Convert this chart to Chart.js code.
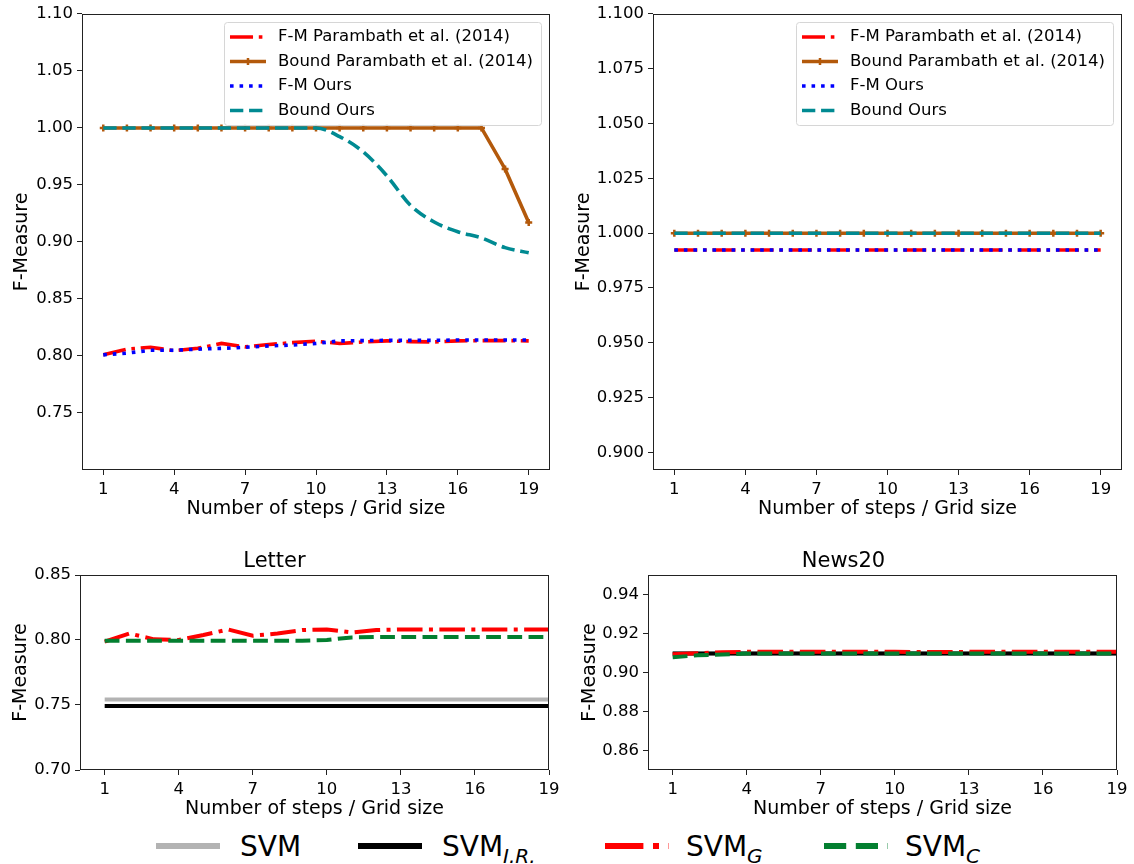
<!DOCTYPE html>
<html>
<head>
<meta charset="utf-8">
<script src="https://cdn.jsdelivr.net/npm/chart.js@4.4.0/dist/chart.umd.min.js"></script>
<style>
  body { margin: 0; background: #fff; }
  #page { position: relative; width: 1134px; height: 864px; font-family: 'DejaVu Sans', sans-serif; }
  canvas { position: absolute; }
  .leg { position: absolute; top: 833px; font-size: 28px; line-height: 28px; color: #000; white-space: nowrap; }
  .leg i { font-size: 20px; position: relative; top: 7px; }
  .legline { position: absolute; top: 841px; }
</style>
</head>
<body>
<div id="page">
  <canvas id="tl" width="560" height="530" style="left:0;top:0"></canvas>
  <canvas id="tr" width="564" height="530" style="left:570px;top:0"></canvas>
  <canvas id="bl" width="565" height="290" style="left:0;top:540px"></canvas>
  <canvas id="br" width="564" height="290" style="left:570px;top:540px"></canvas>
  <div id="bottomLegend"></div>
</div>
<script>
// x values and tick labels
const steps = [1, 2, 3, 4, 5, 6, 7, 8, 9, 10, 11, 12, 13, 14, 15, 16, 17, 18, 19];
const xTickValues = [1, 4, 7, 10, 13, 16, 19];

// top left panel
const fmParambathA = [0.801, 0.806, 0.8076, 0.8047, 0.8067, 0.811, 0.808, 0.810, 0.8117, 0.8129, 0.811, 0.8123, 0.8132, 0.8126, 0.8123, 0.8132, 0.8135, 0.8135, 0.8132];
const boundParambathA = [1, 1, 1, 1, 1, 1, 1, 1, 1, 1, 1, 1, 1, 1, 1, 1, 1, 0.964, 0.917];
const fmOursA = [0.801, 0.8025, 0.805, 0.805, 0.806, 0.8067, 0.8076, 0.8088, 0.8096, 0.811, 0.8132, 0.8135, 0.8137, 0.8137, 0.8137, 0.814, 0.814, 0.814, 0.814];
const boundOursA = [1, 1, 1, 1, 1, 1, 1, 1, 1, 1, 0.9924, 0.979, 0.958, 0.932, 0.9175, 0.909, 0.9035, 0.895, 0.8905];
const yTicksA = [0.75, 0.80, 0.85, 0.90, 0.95, 1.00, 1.05, 1.10];

// top right panel
const fmParambathB = [0.9923, 0.9923, 0.9923, 0.9923, 0.9923, 0.9923, 0.9923, 0.9923, 0.9923, 0.9923, 0.9923, 0.9923, 0.9923, 0.9923, 0.9923, 0.9923, 0.9923, 0.9923, 0.9923];
const boundParambathB = [1, 1, 1, 1, 1, 1, 1, 1, 1, 1, 1, 1, 1, 1, 1, 1, 1, 1, 1];
const fmOursB = [0.9923, 0.9923, 0.9923, 0.9923, 0.9923, 0.9923, 0.9923, 0.9923, 0.9923, 0.9923, 0.9923, 0.9923, 0.9923, 0.9923, 0.9923, 0.9923, 0.9923, 0.9923, 0.9923];
const boundOursB = [1, 1, 1, 1, 1, 1, 1, 1, 1, 1, 1, 1, 1, 1, 1, 1, 1, 1, 1];
const yTicksB = [0.900, 0.925, 0.950, 0.975, 1.000, 1.025, 1.050, 1.075, 1.100];

// Letter
const svmLetter = [0.7543, 0.7543, 0.7543, 0.7543, 0.7543, 0.7543, 0.7543, 0.7543, 0.7543, 0.7543, 0.7543, 0.7543, 0.7543, 0.7543, 0.7543, 0.7543, 0.7543, 0.7543, 0.7543];
const svmIrLetter = [0.7493, 0.7493, 0.7493, 0.7493, 0.7493, 0.7493, 0.7493, 0.7493, 0.7493, 0.7493, 0.7493, 0.7493, 0.7493, 0.7493, 0.7493, 0.7493, 0.7493, 0.7493, 0.7493];
const svmGLetter = [0.7987, 0.805, 0.8005, 0.800, 0.8038, 0.8081, 0.8033, 0.805, 0.8076, 0.8081, 0.8058, 0.8076, 0.8081, 0.8081, 0.8081, 0.8081, 0.8081, 0.8081, 0.8081];
const svmCLetter = [0.7995, 0.7995, 0.7995, 0.7995, 0.7995, 0.7995, 0.7995, 0.7995, 0.7995, 0.800, 0.802, 0.8023, 0.8023, 0.8023, 0.8023, 0.8023, 0.8023, 0.8023, 0.8023];
const yTicksLetter = [0.70, 0.75, 0.80, 0.85];

// News20
const svmNews = [0.9097, 0.9097, 0.9097, 0.9097, 0.9097, 0.9097, 0.9097, 0.9097, 0.9097, 0.9097, 0.9097, 0.9097, 0.9097, 0.9097, 0.9097, 0.9097, 0.9097, 0.9097, 0.9097];
const svmIrNews = [0.9097, 0.9097, 0.9097, 0.9097, 0.9097, 0.9097, 0.9097, 0.9097, 0.9097, 0.9097, 0.9097, 0.9097, 0.9097, 0.9097, 0.9097, 0.9097, 0.9097, 0.9097, 0.9097];
const svmGNews = [0.9094, 0.9099, 0.9104, 0.9106, 0.9106, 0.9106, 0.9106, 0.9106, 0.9106, 0.9106, 0.9105, 0.9105, 0.9106, 0.9106, 0.9106, 0.9106, 0.9106, 0.9106, 0.9106];
const svmCNews = [0.9078, 0.9088, 0.9092, 0.9097, 0.9097, 0.9097, 0.9097, 0.9097, 0.9097, 0.9097, 0.9097, 0.9097, 0.9097, 0.9097, 0.9097, 0.9097, 0.9097, 0.9097, 0.9097];
const yTicksNews = [0.86, 0.88, 0.90, 0.92, 0.94];

const RED = '#ff0000', BROWN = '#b3590b', BLUE = '#0000ff', TEAL = '#008a92';
const GRAY = '#b3b3b3', BLACK = '#000000', GREEN = '#037f30';

Chart.defaults.font.family = "'DejaVu Sans', sans-serif";
Chart.defaults.color = '#000';
Chart.defaults.animation = false;

// dash patterns scale with line width like matplotlib
const dashdot = w => [6.4 * w, 1.6 * w, 1 * w, 1.6 * w];
const dashed = w => [3.7 * w, 1.6 * w];
const dotted = w => [1 * w, 1.65 * w];

// axes box on all four sides
const framePlugin = {
  id: 'frame',
  afterDatasetsDraw(chart) {
    const a = chart.chartArea, ctx = chart.ctx;
    ctx.save();
    ctx.strokeStyle = '#222';
    ctx.lineWidth = 1;
    ctx.strokeRect(Math.round(a.left) + 0.5, Math.round(a.top) + 0.5, Math.round(a.right - a.left) - 1, Math.round(a.bottom - a.top) - 1);
    ctx.restore();
  }
};

// matplotlib style legend in the upper right of the axes
const boxLegend = {
  id: 'boxLegend',
  afterDraw(chart, args, o) {
    if (!o.show) return;
    const ctx = chart.ctx, a = chart.chartArea;
    const dsList = chart.data.datasets;
    ctx.save();
    ctx.font = "16.5px 'DejaVu Sans'";
    const tw = Math.max(...o.order.map(i => ctx.measureText(dsList[i].label).width));
    const w = 54 + tw + 8;
    const h = 103;
    const x0 = a.right - 9 - w, y0 = 22;
    ctx.beginPath();
    ctx.roundRect(x0 + 0.5, y0 + 0.5, w, h, 3);
    ctx.fillStyle = 'rgba(255,255,255,0.85)';
    ctx.fill();
    ctx.strokeStyle = '#d6d6d6';
    ctx.lineWidth = 1;
    ctx.stroke();
    o.order.forEach((i, k) => {
      const ds = dsList[i];
      const y = y0 + 15 + k * 24.5;
      ctx.beginPath();
      ctx.setLineDash(ds.borderDash || []);
      ctx.lineCap = 'butt';
      ctx.lineWidth = ds.borderWidth;
      ctx.strokeStyle = ds.borderColor;
      ctx.moveTo(x0 + 6, y);
      ctx.lineTo(x0 + 42, y);
      ctx.stroke();
      ctx.setLineDash([]);
      if (ds.pointRadius > 0) {
        ctx.lineWidth = 2.5;
        ctx.beginPath();
        ctx.moveTo(x0 + 24, y - 3.5); ctx.lineTo(x0 + 24, y + 3.5);
        ctx.moveTo(x0 + 20.5, y); ctx.lineTo(x0 + 27.5, y);
        ctx.stroke();
      }
      ctx.fillStyle = '#000';
      ctx.textBaseline = 'middle';
      ctx.fillText(ds.label, x0 + 54, y);
    });
    ctx.restore();
  }
};

function line(label, data, color, width, dash, order, extra) {
  return Object.assign({
    label: label,
    data: data,
    borderColor: color,
    backgroundColor: color,
    borderWidth: width,
    borderDash: dash,
    pointRadius: 0,
    fill: false,
    tension: 0,
    order: order
  }, extra || {});
}

function makePanel(id, p) {
  new Chart(document.getElementById(id), {
    type: 'line',
    data: { labels: steps, datasets: p.datasets },
    options: {
      responsive: false,
      layout: { padding: p.padding },
      plugins: {
        legend: { display: false },
        tooltip: { enabled: false },
        title: p.title ? {
          display: true, text: p.title, color: '#000',
          font: { size: 21, weight: 'normal' },
          padding: { top: 9, bottom: 0.8 }
        } : { display: false },
        boxLegend: { show: !!p.legendOrder, order: p.legendOrder || [] }
      },
      scales: {
        x: {
          type: 'linear',
          min: p.xMin, max: p.xMax,
          afterBuildTicks: s => { s.ticks = xTickValues.map(v => ({ value: v })); },
          afterFit: s => { s.height = 60; },
          grid: { drawOnChartArea: false, drawTicks: true, tickLength: 5, color: '#222' },
          border: { display: false },
          ticks: { autoSkip: false, maxRotation: 0, padding: 5, font: { size: 16.5 }, color: '#000',
                   callback: v => String(v) },
          title: { display: true, text: 'Number of steps / Grid size', font: { size: 19 }, color: '#000',
                   padding: { top: 0, bottom: 9.8 } }
        },
        y: {
          min: p.yMin, max: p.yMax,
          afterBuildTicks: s => { s.ticks = p.yTicks.map(v => ({ value: v })); },
          afterFit: s => { s.width = p.yWidth; },
          grid: { drawOnChartArea: false, drawTicks: true, tickLength: 5, color: '#222' },
          border: { display: false },
          ticks: { padding: 4, font: { size: 16.5 }, color: '#000',
                   callback: v => v.toFixed(p.decimals) },
          title: { display: true, text: 'F-Measure', font: { size: 19 }, color: '#000',
                   padding: { top: p.yTitlePad, bottom: 0 } }
        }
      }
    },
    plugins: [framePlugin, boxLegend]
  });
}

const LWT = 3.6;
const brownPts = { pointRadius: 3.5, pointStyle: 'cross', pointBorderWidth: 2.5, pointBorderColor: BROWN };

makePanel('tl', {
  padding: { left: 0, top: 13, right: 10, bottom: 0 },
  yWidth: 82, yTitlePad: 10.4, decimals: 2,
  xMin: 0.1, xMax: 19.9, yMin: 0.70, yMax: 1.10, yTicks: yTicksA,
  legendOrder: [0, 1, 2, 3],
  datasets: [
    line('F-M Parambath et al. (2014)', fmParambathA, RED, LWT, dashdot(LWT), 3),
    line('Bound Parambath et al. (2014)', boundParambathA, BROWN, LWT, [], 2, brownPts),
    line('F-M Ours', fmOursA, BLUE, LWT, dotted(LWT), 1),
    line('Bound Ours', boundOursA, TEAL, LWT, dashed(LWT), 0, { cubicInterpolationMode: 'monotone' })
  ]
});

makePanel('tr', {
  padding: { left: 0, top: 13, right: 12, bottom: 0 },
  yWidth: 83, yTitlePad: 2.6, decimals: 3,
  xMin: 0.1, xMax: 19.9, yMin: 0.892, yMax: 1.10, yTicks: yTicksB,
  legendOrder: [0, 1, 2, 3],
  datasets: [
    line('F-M Parambath et al. (2014)', fmParambathB, RED, LWT, dashdot(LWT), 3),
    line('Bound Parambath et al. (2014)', boundParambathB, BROWN, LWT, [], 2, brownPts),
    line('F-M Ours', fmOursB, BLUE, LWT, dotted(LWT), 1),
    line('Bound Ours', boundOursB, TEAL, LWT, dashed(LWT), 0)
  ]
});

const LWB = 4;
makePanel('bl', {
  title: 'Letter',
  padding: { left: 0, top: 0, right: 16, bottom: 0 },
  yWidth: 80, yTitlePad: 9.6, decimals: 2,
  xMin: 0, xMax: 19, yMin: 0.70, yMax: 0.85, yTicks: yTicksLetter,
  datasets: [
    line('SVM', svmLetter, GRAY, LWB, [], 3),
    line('SVM I.R.', svmIrLetter, BLACK, LWB, [], 2),
    line('SVM G', svmGLetter, RED, LWB, dashdot(LWB), 1),
    line('SVM C', svmCLetter, GREEN, LWB, dashed(LWB), 0)
  ]
});

makePanel('br', {
  title: 'News20',
  padding: { left: 0, top: 0, right: 17, bottom: 0 },
  yWidth: 78, yTitlePad: 8.6, decimals: 2,
  xMin: 0, xMax: 19, yMin: 0.85, yMax: 0.95, yTicks: yTicksNews,
  datasets: [
    line('SVM', svmNews, GRAY, LWB, [], 3),
    line('SVM I.R.', svmIrNews, BLACK, LWB, [], 2),
    line('SVM G', svmGNews, RED, LWB, dashdot(LWB), 1),
    line('SVM C', svmCNews, GREEN, LWB, dashed(LWB), 0)
  ]
});

// shared legend under the panels
const legendNames = ['SVM', 'SVM', 'SVM', 'SVM'];
const legendSubs = ['', 'I.R.', 'G', 'C'];
const legendColors = [GRAY, BLACK, RED, GREEN];
const legendDash = [[], [], dashdot(6), dashed(6)];
const legendLineX = [156, 358, 605, 824];
const legendTextX = [240, 442, 686, 905];

const holder = document.getElementById('bottomLegend');
legendNames.forEach((name, i) => {
  const svg = document.createElementNS('http://www.w3.org/2000/svg', 'svg');
  svg.setAttribute('width', '64');
  svg.setAttribute('height', '10');
  svg.setAttribute('class', 'legline');
  svg.style.left = legendLineX[i] + 'px';
  const l = document.createElementNS('http://www.w3.org/2000/svg', 'line');
  l.setAttribute('x1', '0'); l.setAttribute('x2', '64');
  l.setAttribute('y1', '5'); l.setAttribute('y2', '5');
  l.setAttribute('stroke', legendColors[i]);
  l.setAttribute('stroke-width', '6');
  if (legendDash[i].length) l.setAttribute('stroke-dasharray', legendDash[i].join(' '));
  svg.appendChild(l);
  holder.appendChild(svg);

  const t = document.createElement('div');
  t.className = 'leg';
  t.style.left = legendTextX[i] + 'px';
  t.innerHTML = name + (legendSubs[i] ? '<i>' + legendSubs[i] + '</i>' : '');
  holder.appendChild(t);
});
</script>
</body>
</html>
